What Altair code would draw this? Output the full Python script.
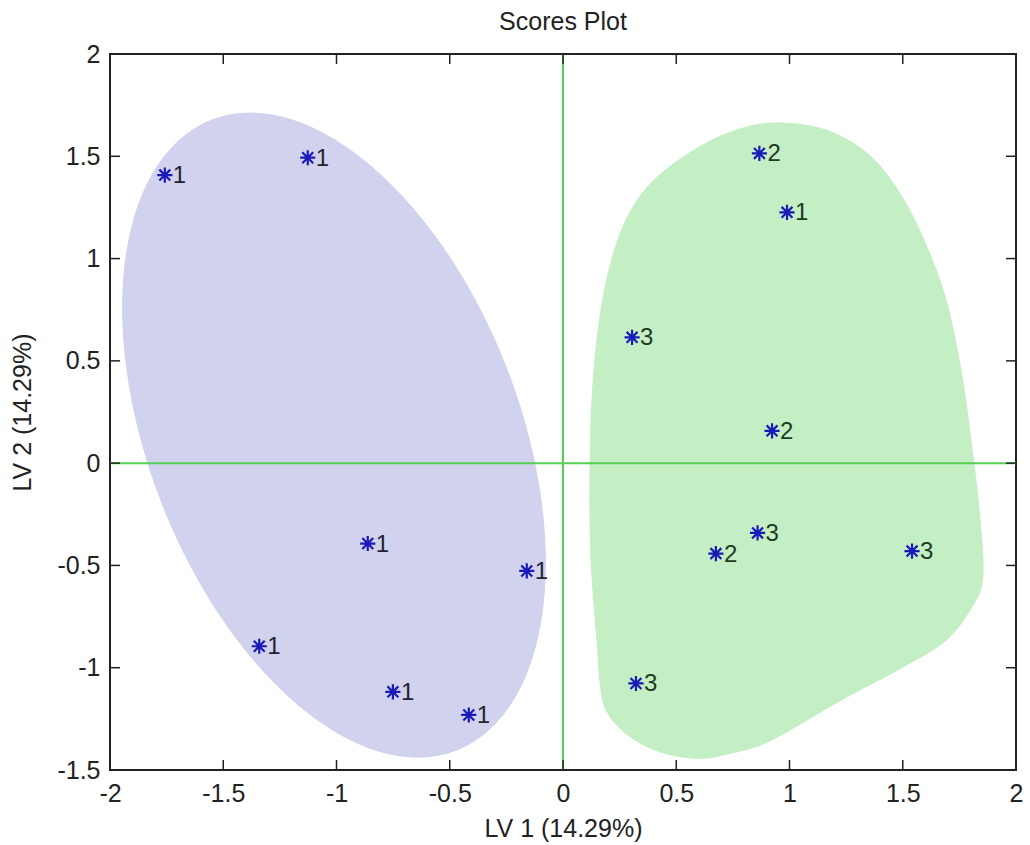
import altair as alt
import numpy as np
import pandas as pd

# ---- data ----
blue_x = [-1.758, -1.127, -0.862, -0.160, -1.341, -0.751, -0.416]
blue_y = [1.408, 1.493, -0.393, -0.527, -0.895, -1.118, -1.231]
blue_lab = ["1", "1", "1", "1", "1", "1", "1"]

green_x = [0.867, 0.989, 0.305, 0.923, 0.859, 0.675, 1.541, 0.322]
green_y = [1.514, 1.226, 0.615, 0.158, -0.341, -0.442, -0.430, -1.077]
green_lab = ["2", "1", "3", "2", "3", "2", "3", "3"]

# confidence ellipse of class 1 (centre and two conjugate semi-axes, data units)
ell_center = (-1.011, 0.137)
ell_axis_a = (-0.5395, 1.540)
ell_axis_b = (-0.7615, -0.327)

# outline of the class 2/3 region (clockwise from the top)
hull_x = [0.932, 1.161, 1.351, 1.492, 1.603, 1.691, 1.757, 1.801, 1.837, 1.854,
          1.810, 1.691, 1.492, 1.227, 0.918, 0.742, 0.596, 0.433, 0.300, 0.203,
          0.168, 0.150, 0.124, 0.119, 0.128, 0.155, 0.203, 0.278, 0.389, 0.565,
          0.742]
hull_y = [1.663, 1.628, 1.506, 1.311, 1.066, 0.797, 0.455, 0.112, -0.230, -0.548,
          -0.694, -0.866, -1.002, -1.159, -1.355, -1.418, -1.443, -1.413, -1.340, -1.232,
          -1.110, -0.866, -0.474, -0.083, 0.308, 0.650, 0.944, 1.188, 1.369, 1.521,
          1.619]

x_ticks = [-2, -1.5, -1, -0.5, 0, 0.5, 1, 1.5, 2]
y_ticks = [-1.5, -1, -0.5, 0, 0.5, 1, 1.5, 2]

title_text = "Scores Plot"
x_title = "LV 1 (14.29%)"
y_title = "LV 2 (14.29%)"

# ---- build tables ----
t = np.linspace(0, 2 * np.pi, 121)
ell = pd.DataFrame({
    "x": ell_center[0] + ell_axis_a[0] * np.cos(t) + ell_axis_b[0] * np.sin(t),
    "y": ell_center[1] + ell_axis_a[1] * np.cos(t) + ell_axis_b[1] * np.sin(t),
    "i": np.arange(len(t)),
})
hull = pd.DataFrame({"x": hull_x, "y": hull_y, "i": range(len(hull_x))})
pts = pd.DataFrame({
    "x": blue_x + green_x,
    "y": blue_y + green_y,
    "lab": blue_lab + green_lab,
    "grp": ["a"] * len(blue_x) + ["b"] * len(green_x),
})
xt = pd.DataFrame({"v": x_ticks})
yt = pd.DataFrame({"v": y_ticks})
zero = pd.DataFrame({"v": [0]})

W, H = 906, 716
FONT = "Liberation Sans"
TICK = 10

xs = alt.Scale(domain=[-2, 2], nice=False, zero=False)
ys = alt.Scale(domain=[-1.5, 2], nice=False, zero=False)

X = alt.X("x:Q", scale=xs, axis=alt.Axis(
    values=x_ticks, title=x_title, grid=False, ticks=False, tickSize=0, domain=False,
    labelExpr="datum.value + ''", labelFont=FONT, labelFontSize=25, labelColor="#222",
    labelPadding=11, titleFont=FONT, titleFontSize=25, titleFontWeight="normal",
    titleColor="#222", titlePadding=10, labelFlush=False, labelOverlap=False))
Y = alt.Y("y:Q", scale=ys, axis=alt.Axis(
    values=y_ticks, title=y_title, grid=False, ticks=False, tickSize=0, domain=False,
    labelExpr="datum.value + ''", labelFont=FONT, labelFontSize=25, labelColor="#222",
    labelPadding=10, titleFont=FONT, titleFontSize=25, titleFontWeight="normal",
    titleColor="#222", titlePadding=21, labelFlush=False, labelOverlap=False))

ellipse = alt.Chart(ell).mark_line(
    fill="#d0d2ee", stroke="#d0d2ee", strokeWidth=1, interpolate="linear-closed"
).encode(x=X, y=Y, order="i:Q")

region = alt.Chart(hull).mark_line(
    fill="#c4eec4", stroke="#c4eec4", strokeWidth=1, interpolate="cardinal-closed"
).encode(x=alt.X("x:Q", scale=xs), y=alt.Y("y:Q", scale=ys), order="i:Q")

vline = alt.Chart(zero).mark_rule(color="#55d055", strokeWidth=2).encode(
    x=alt.X("v:Q", scale=xs))
hline = alt.Chart(zero).mark_rule(color="#55d055", strokeWidth=2).encode(
    y=alt.Y("v:Q", scale=ys))

tick_style = dict(color="#222", strokeWidth=1.5)
t_bottom = alt.Chart(xt).mark_rule(**tick_style).encode(
    x=alt.X("v:Q", scale=xs), y=alt.value(H), y2=alt.value(H - TICK))
t_top = alt.Chart(xt).mark_rule(**tick_style).encode(
    x=alt.X("v:Q", scale=xs), y=alt.value(0), y2=alt.value(TICK))
t_left = alt.Chart(yt).mark_rule(**tick_style).encode(
    y=alt.Y("v:Q", scale=ys), x=alt.value(0), x2=alt.value(TICK))
t_right = alt.Chart(yt).mark_rule(**tick_style).encode(
    y=alt.Y("v:Q", scale=ys), x=alt.value(W), x2=alt.value(W - TICK))

ASTERISK = "M-1,0L1,0M0,-1L0,1M-0.72,-0.72L0.72,0.72M-0.72,0.72L0.72,-0.72"
points = alt.Chart(pts).mark_point(
    shape=ASTERISK, filled=False, size=230, strokeWidth=2.2, color="#1a1ab8", opacity=1
).encode(x=alt.X("x:Q", scale=xs), y=alt.Y("y:Q", scale=ys))

labels = alt.Chart(pts).mark_text(
    align="left", baseline="middle", dx=8, dy=1, font=FONT, fontSize=24
).encode(
    x=alt.X("x:Q", scale=xs), y=alt.Y("y:Q", scale=ys), text="lab:N",
    color=alt.Color("grp:N", scale=alt.Scale(domain=["a", "b"], range=["#222230", "#1f3a1f"]),
                    legend=None),
)

chart = alt.layer(
    ellipse, region, vline, hline, t_bottom, t_top, t_left, t_right, points, labels
).properties(
    width=W, height=H,
    title=alt.TitleParams(title_text, font=FONT, fontSize=25, fontWeight="normal",
                          color="#222", offset=7, anchor="middle"),
    autosize=alt.AutoSizeParams(type="none"),
    padding={"left": 110, "top": 54, "right": 14, "bottom": 75},
    background="white",
).configure_view(stroke="#222", strokeWidth=2)

chart.save("out.html", embed_options={"renderer": "svg", "actions": False})
